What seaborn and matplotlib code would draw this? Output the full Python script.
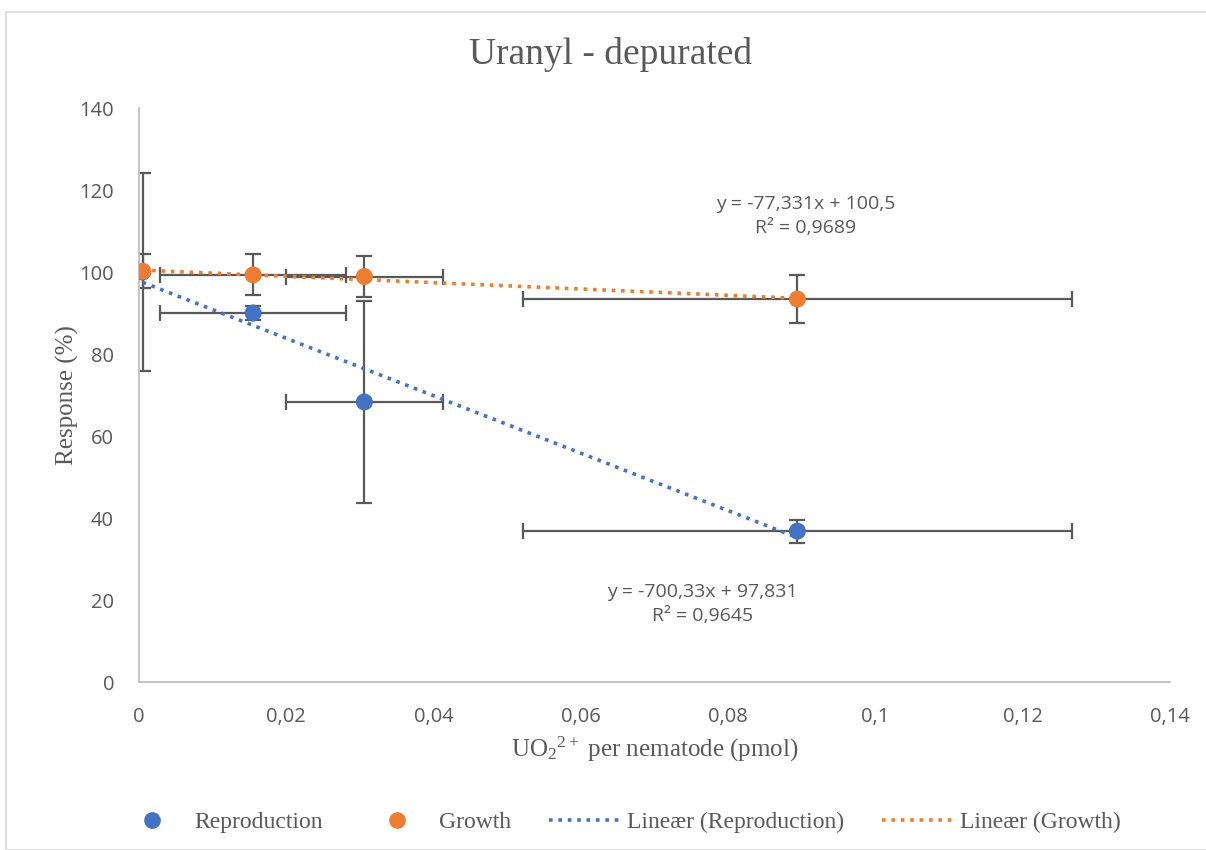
import numpy as np
import pandas as pd
import matplotlib
matplotlib.use("Agg")
import matplotlib.pyplot as plt
import seaborn as sns
from matplotlib.lines import Line2D
from matplotlib.patches import Rectangle

# ---- data ----
x_repro = [0.0005, 0.0155, 0.0306, 0.0894]
y_repro = [100.0, 90.0, 68.3, 36.8]
yerr_repro = [24.2, 1.7, 24.6, 2.8]
xerr_repro = [0.0, 0.0126, 0.0107, 0.0373]

x_growth = [0.0005, 0.0155, 0.0306, 0.0894]
y_growth = [100.2, 99.3, 98.9, 93.4]
yerr_growth = [4.1, 5.0, 4.9, 5.9]
xerr_growth = [0.0, 0.0126, 0.0107, 0.0373]

slope_repro, icpt_repro, r2_repro = -700.33, 97.831, 0.9645
slope_growth, icpt_growth, r2_growth = -77.331, 100.5, 0.9689

x_ticks = [0, 0.02, 0.04, 0.06, 0.08, 0.10, 0.12, 0.14]
x_tick_labels = ["0", "0,02", "0,04", "0,06", "0,08", "0,1", "0,12", "0,14"]
y_ticks = [0, 20, 40, 60, 80, 100, 120, 140]

BLUE = "#4472C4"
ORANGE = "#ED7D31"
ERR = "#595959"
TXT = "#595959"

sns.set_style("white")
plt.rcParams["font.family"] = ["Open Sans", "DejaVu Sans"]
plt.rcParams["mathtext.fontset"] = "custom"
plt.rcParams["mathtext.rm"] = "Liberation Serif"
plt.rcParams["mathtext.it"] = "Liberation Serif"
plt.rcParams["mathtext.default"] = "rm"

fig = plt.figure(figsize=(12.06, 8.5), dpi=100)
ax = fig.add_axes([139/1206, 1-682/850, (1170-139)/1206, (682-108)/850])

# border of the chart area
fig.patches.append(Rectangle((6/1206, 0), 1.0, 1-12/850, transform=fig.transFigure,
                             fill=False, edgecolor="#D9D9D9", linewidth=1.2))

# trend lines
xr = np.array([min(x_repro), max(x_repro)])
xg = np.array([min(x_growth), max(x_growth)])
trend = pd.DataFrame({
    "x": np.concatenate([xr, xg]),
    "y": np.concatenate([slope_repro*xr + icpt_repro, slope_growth*xg + icpt_growth]),
    "s": ["Lineær (Reproduction)"]*2 + ["Lineær (Growth)"]*2,
})

# error bars
for xs, ys, xe, ye in [(x_repro, y_repro, xerr_repro, yerr_repro),
                       (x_growth, y_growth, xerr_growth, yerr_growth)]:
    ax.errorbar(xs, ys, xerr=xe, yerr=ye, fmt="none", ecolor=ERR, elinewidth=1.6,
                capsize=6, capthick=1.6, zorder=2)

sns.lineplot(data=trend, x="x", y="y", hue="s",
             palette={"Lineær (Reproduction)": BLUE, "Lineær (Growth)": ORANGE},
             linestyle=(0, (1, 1.6)), linewidth=2.6, ax=ax, legend=False, zorder=3)

pts = pd.DataFrame({
    "x": x_repro + x_growth,
    "y": y_repro + y_growth,
    "s": ["Reproduction"]*len(x_repro) + ["Growth"]*len(x_growth),
})
sns.scatterplot(data=pts, x="x", y="y", hue="s",
                palette={"Reproduction": BLUE, "Growth": ORANGE},
                s=150, edgecolor="none", ax=ax, legend=False, zorder=4)

ax.set_xlim(0, 0.14)
ax.set_ylim(0, 140)
ax.set_xticks(x_ticks)
ax.set_xticklabels(x_tick_labels)
ax.set_yticks(y_ticks)
ax.tick_params(axis="both", length=0, labelsize=14.5, colors=TXT)
ax.tick_params(axis="y", pad=18)
ax.tick_params(axis="x", pad=18)
for side in ["top", "right"]:
    ax.spines[side].set_visible(False)
for side in ["left", "bottom"]:
    ax.spines[side].set_color("#BFBFBF")
    ax.spines[side].set_linewidth(1.3)

serif = ["Liberation Serif", "DejaVu Serif"]
ax.set_xlabel(r"UO$_2$$^{2+}$ per nematode (pmol)", fontsize=18, color=TXT,
              family=serif, labelpad=6)
ax.set_ylabel("Response (%)", fontsize=18, color=TXT, family=serif, labelpad=0)

fig.text(0.506, 1-55/850, "Uranyl - depurated", ha="center", va="center",
         fontsize=27, color=TXT, family=serif)

ax.text(0.0905, 113.7, f"y = {slope_growth:.3f}x + {icpt_growth:g}".replace(".", ",")
        + "\n" + f"R² = {r2_growth}".replace(".", ","),
        ha="center", va="center", fontsize=14, color=TXT, linespacing=1.45)
ax.text(0.0765, 19.1, f"y = {slope_repro:.2f}x + {icpt_repro:g}".replace(".", ",")
        + "\n" + f"R² = {r2_repro}".replace(".", ","),
        ha="center", va="center", fontsize=14, color=TXT, linespacing=1.45)

handles = [
    Line2D([], [], marker="o", linestyle="none", color=BLUE, markersize=11),
    Line2D([], [], marker="o", linestyle="none", color=ORANGE, markersize=11),
    Line2D([], [], color=BLUE, linestyle=(0, (1, 1.6)), linewidth=2.6),
    Line2D([], [], color=ORANGE, linestyle=(0, (1, 1.6)), linewidth=2.6),
]
labels = ["Reproduction", "Growth", "Lineær (Reproduction)", "Lineær (Growth)"]
fig.legend(handles, labels, loc="center", bbox_to_anchor=(0.513, 1-822/850), ncol=4,
           frameon=False, prop={"family": serif, "size": 17}, labelcolor=TXT,
           handlelength=3.0, columnspacing=1.6, handletextpad=0.3)

fig.savefig("out.png", dpi=100)
